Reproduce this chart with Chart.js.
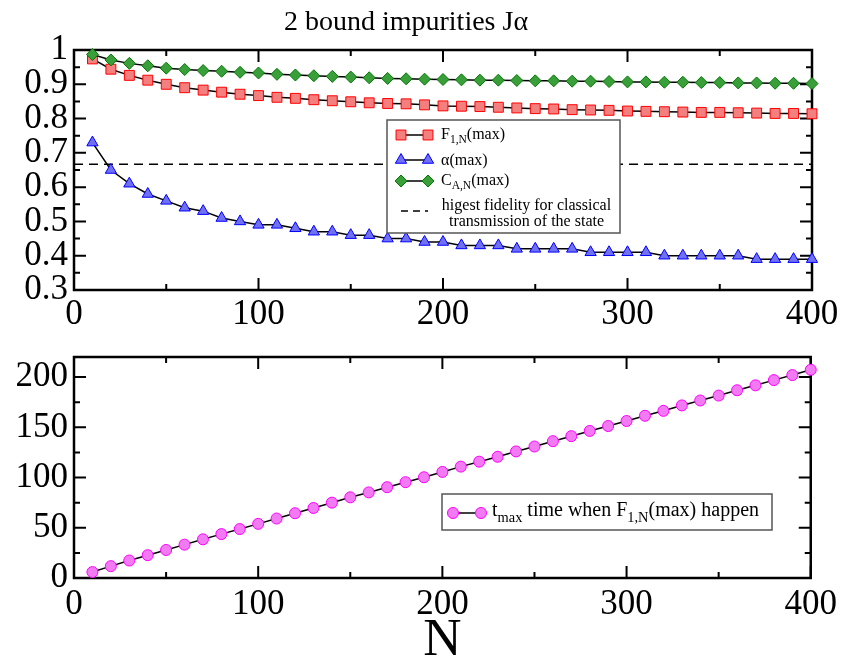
<!DOCTYPE html>
<html>
<head>
<meta charset="utf-8">
<script src="https://cdn.jsdelivr.net/npm/chart.js@4"></script>
<style>
  body { margin: 0; background: #fff; }
  #wrap { position: relative; width: 843px; height: 658px; }
  canvas { position: absolute; left: 0; }
  #chartTop { top: 0; }
  #chartBottom { top: 330px; }
</style>
</head>
<body>
<div id="wrap">
  <canvas id="chartTop" width="843" height="330"></canvas>
  <canvas id="chartBottom" width="843" height="328"></canvas>
</div>
<script>
// ---- data ----
const sizeN = [10, 20, 30, 40, 50, 60, 70, 80, 90, 100,
  110, 120, 130, 140, 150, 160, 170, 180, 190, 200,
  210, 220, 230, 240, 250, 260, 270, 280, 290, 300,
  310, 320, 330, 340, 350, 360, 370, 380, 390, 400];

const fidelityMax = [0.974, 0.944, 0.926, 0.912, 0.900, 0.890, 0.883, 0.877, 0.871, 0.867,
  0.862, 0.859, 0.855, 0.852, 0.849, 0.846, 0.844, 0.843, 0.840, 0.837,
  0.836, 0.835, 0.833, 0.831, 0.829, 0.828, 0.826, 0.825, 0.824, 0.822,
  0.821, 0.820, 0.819, 0.818, 0.818, 0.817, 0.816, 0.815, 0.815, 0.814];

const alphaMax = [0.73, 0.65, 0.61, 0.58, 0.56, 0.54, 0.53, 0.51, 0.50, 0.49,
  0.49, 0.48, 0.47, 0.47, 0.46, 0.46, 0.45, 0.45, 0.44, 0.44,
  0.43, 0.43, 0.43, 0.42, 0.42, 0.42, 0.42, 0.41, 0.41, 0.41,
  0.41, 0.40, 0.40, 0.40, 0.40, 0.40, 0.39, 0.39, 0.39, 0.39];

const concurrenceMax = [0.987, 0.971, 0.961, 0.954, 0.947, 0.943, 0.940, 0.938, 0.935, 0.933,
  0.929, 0.927, 0.925, 0.923, 0.921, 0.919, 0.917, 0.916, 0.915, 0.914,
  0.913, 0.912, 0.912, 0.911, 0.910, 0.910, 0.909, 0.909, 0.908, 0.907,
  0.907, 0.906, 0.906, 0.905, 0.905, 0.904, 0.904, 0.903, 0.903, 0.902];

const tMax = [5.9, 11.8, 17.4, 22.7, 27.9, 33.2, 38.5, 43.7, 48.7, 53.9,
  59.2, 64.5, 69.7, 75.0, 80.3, 85.2, 90.4, 95.4, 100.3, 105.6,
  110.9, 115.8, 120.7, 126.0, 130.9, 136.2, 141.2, 146.4, 151.3, 156.3,
  161.5, 166.4, 171.8, 176.7, 181.6, 186.9, 191.8, 197.0, 202.0, 207.3];

const classicalLimit = 2 / 3;
const xRange = [0, 400];

const pairs = (xs, ys) => xs.map((x, i) => ({ x, y: ys[i] }));
const isMajor = (v, step) => Math.abs(v / step - Math.round(v / step)) < 1e-6;

Chart.defaults.font.family = "'Liberation Serif', 'DejaVu Serif', serif";
Chart.defaults.color = '#000';

// series looks (xmgrace style)
const styles = {
  F: { pointStyle: 'rect', pointRadius: 7, pointBackgroundColor: '#f37f7f', pointBorderColor: '#ff0000' },
  alpha: { pointStyle: 'triangle', pointRadius: 6.5, pointBackgroundColor: '#7070f0', pointBorderColor: '#0000ff' },
  C: { pointStyle: 'rectRot', pointRadius: 6, pointBackgroundColor: '#3a9e3a', pointBorderColor: '#007a00' },
  t: { pointStyle: 'circle', pointRadius: 5.5, pointBackgroundColor: '#f27af2', pointBorderColor: '#ff00ff' },
};

function marker(ctx, s, x, y) {
  const r = s.pointRadius;
  ctx.beginPath();
  if (s.pointStyle === 'rect') {
    const h = r * Math.SQRT1_2;
    ctx.rect(x - h, y - h, 2 * h, 2 * h);
  } else if (s.pointStyle === 'triangle') {
    ctx.moveTo(x, y - r);
    ctx.lineTo(x + r * 0.866, y + r / 2);
    ctx.lineTo(x - r * 0.866, y + r / 2);
    ctx.closePath();
  } else if (s.pointStyle === 'rectRot') {
    ctx.moveTo(x - r, y); ctx.lineTo(x, y - r); ctx.lineTo(x + r, y); ctx.lineTo(x, y + r);
    ctx.closePath();
  } else {
    ctx.arc(x, y, r, 0, Math.PI * 2);
  }
  ctx.fillStyle = s.pointBackgroundColor;
  ctx.strokeStyle = s.pointBorderColor;
  ctx.lineWidth = 1;
  ctx.fill();
  ctx.stroke();
}

// text with subscripts: parts = [[text, isSub], ...]
function richText(ctx, parts, x, y, size) {
  let cx = x;
  parts.forEach(([txt, sub]) => {
    const fs = sub ? size * 0.72 : size;
    ctx.font = fs + "px 'Liberation Serif', serif";
    ctx.fillText(txt, cx, sub ? y + size * 0.28 : y);
    cx += ctx.measureText(txt).width;
  });
  return cx - x;
}

// frame + inward ticks on all four sides
const framePlugin = {
  id: 'frame',
  beforeDatasetsDraw(chart, args, opts) {
    const { ctx, chartArea: a, scales } = chart;
    ctx.save();
    ctx.strokeStyle = '#000';
    ctx.lineWidth = 2;
    ctx.beginPath();
    scales.x.ticks.forEach((t) => {
      const px = scales.x.getPixelForValue(t.value);
      const len = isMajor(t.value, opts.xMajor) ? 12 : 6;
      ctx.moveTo(px, a.bottom); ctx.lineTo(px, a.bottom - len);
      ctx.moveTo(px, a.top); ctx.lineTo(px, a.top + len);
    });
    scales.y.ticks.forEach((t) => {
      const py = scales.y.getPixelForValue(t.value);
      const len = isMajor(t.value, opts.yMajor) ? 12 : 6;
      ctx.moveTo(a.left, py); ctx.lineTo(a.left + len, py);
      ctx.moveTo(a.right, py); ctx.lineTo(a.right - len, py);
    });
    ctx.stroke();
    ctx.lineWidth = 2.5;
    ctx.strokeRect(a.left, a.top, a.width, a.height);
    ctx.restore();
  },
};

// boxed legend inside the plot
const boxLegend = {
  id: 'boxLegend',
  afterDraw(chart, args, opts) {
    const { ctx, chartArea: a } = chart;
    const bx = a.left + opts.left;
    const by = a.top + opts.top;
    ctx.save();
    ctx.fillStyle = '#fff';
    ctx.fillRect(bx, by, opts.width, opts.height);
    ctx.strokeStyle = '#555';
    ctx.lineWidth = 1.5;
    ctx.strokeRect(bx, by, opts.width, opts.height);
    opts.items.forEach((it) => {
      const y = by + it.y;
      const x0 = bx + opts.lineFrom;
      const x1 = bx + opts.lineTo;
      ctx.beginPath();
      ctx.strokeStyle = '#000';
      ctx.lineWidth = 1.5;
      ctx.setLineDash(it.dash || []);
      ctx.moveTo(x0, y); ctx.lineTo(x1, y);
      ctx.stroke();
      ctx.setLineDash([]);
      if (it.style) { marker(ctx, it.style, x0, y); marker(ctx, it.style, x1, y); }
      ctx.fillStyle = '#000';
      ctx.textBaseline = 'alphabetic';
      if (it.lines) {
        const cx = bx + opts.textX + it.lineWidth / 2;
        ctx.font = opts.fontSize + "px 'Liberation Serif', serif";
        ctx.textAlign = 'center';
        it.lines.forEach((ln, k) => ctx.fillText(ln, cx, y + it.baseline + k * opts.fontSize));
        ctx.textAlign = 'left';
      } else {
        richText(ctx, it.text, bx + opts.textX, y + it.baseline, opts.fontSize);
      }
    });
    ctx.restore();
  },
};

const lineBase = { borderColor: '#000', borderWidth: 1.5, pointBorderWidth: 1, tension: 0, clip: false, fill: false };

new Chart(document.getElementById('chartTop'), {
  type: 'line',
  data: {
    datasets: [
      { label: 'C_A,N(max)', data: pairs(sizeN, concurrenceMax), ...lineBase, ...styles.C },
      { label: 'F_1,N(max)', data: pairs(sizeN, fidelityMax), ...lineBase, ...styles.F },
      { label: 'alpha(max)', data: pairs(sizeN, alphaMax), ...lineBase, ...styles.alpha },
      {
        label: 'classical',
        data: pairs(xRange, [classicalLimit, classicalLimit]),
        ...lineBase, borderDash: [9, 6], pointRadius: 0,
      },
    ],
  },
  options: {
    responsive: false,
    animation: false,
    layout: { padding: { right: 31 } },
    plugins: {
      legend: { display: false },
      tooltip: { enabled: false },
      title: {
        display: true,
        text: '2 bound impurities Jα',
        font: { size: 28, weight: 'normal' },
        color: '#000',
        padding: { top: 6, bottom: 10.4 },
      },
      frame: { xMajor: 100, yMajor: 0.1 },
      boxLegend: {
        left: 313, top: 70, width: 233, height: 113,
        lineFrom: 14, lineTo: 41, textX: 54, fontSize: 16,
        items: [
          { style: styles.F, y: 15, baseline: 4, text: [['F'], ['1,N', true], ['(max)']] },
          { style: styles.alpha, y: 40, baseline: 5, text: [['α(max)']] },
          { style: styles.C, y: 61, baseline: 4, text: [['C'], ['A,N', true], ['(max)']] },
          { dash: [7, 5], y: 91, baseline: -1, lines: ['higest fidelity for classical', 'transmission of the state'], lineWidth: 171 },
        ],
      },
    },
    scales: {
      x: {
        type: 'linear', min: xRange[0], max: xRange[1],
        grid: { display: false, drawTicks: false }, border: { display: false },
        ticks: {
          stepSize: 50, autoSkip: false, maxRotation: 0, includeBounds: false,
          font: { size: 35 }, padding: 4,
          callback: (v) => (isMajor(v, 100) ? String(v) : ''),
        },
        afterFit: (s) => { s.height = 40; },
      },
      y: {
        min: 0.3, max: 1,
        grid: { display: false, drawTicks: false }, border: { display: false },
        ticks: {
          stepSize: 0.05, autoSkip: false, includeBounds: false,
          font: { size: 35 }, padding: 6,
          callback: (v) => (isMajor(v, 0.1) ? (v === 1 ? '1' : v.toFixed(1)) : ''),
        },
        afterFit: (s) => { s.width = 74; },
      },
    },
  },
  plugins: [framePlugin, boxLegend],
});

new Chart(document.getElementById('chartBottom'), {
  type: 'line',
  data: {
    datasets: [
      { label: 't_max', data: pairs(sizeN, tMax), ...lineBase, ...styles.t },
    ],
  },
  options: {
    responsive: false,
    animation: false,
    layout: { padding: { top: 25, right: 31 } },
    plugins: {
      legend: { display: false },
      tooltip: { enabled: false },
      frame: { xMajor: 100, yMajor: 50 },
      boxLegend: {
        left: 368, top: 137, width: 330, height: 36,
        lineFrom: 11, lineTo: 39, textX: 50, fontSize: 20,
        items: [
          {
            style: styles.t, y: 19, baseline: 3,
            text: [['t'], ['max', true], [' time when F'], ['1,N', true], ['(max) happen']],
          },
        ],
      },
    },
    scales: {
      x: {
        type: 'linear', min: xRange[0], max: xRange[1],
        grid: { display: false, drawTicks: false }, border: { display: false },
        ticks: {
          stepSize: 50, autoSkip: false, maxRotation: 0, includeBounds: false,
          font: { size: 35 }, padding: 6,
          callback: (v) => (isMajor(v, 100) ? String(v) : ''),
        },
        title: { display: true, text: 'N', font: { size: 53, lineHeight: 0.65 }, padding: 0, color: '#000' },
        afterFit: (s) => { s.height = 80; },
      },
      y: {
        min: 0, max: 220,
        grid: { display: false, drawTicks: false }, border: { display: false },
        ticks: {
          stepSize: 25, autoSkip: false, includeBounds: false,
          font: { size: 35 }, padding: 6,
          callback: (v) => (isMajor(v, 50) ? String(v) : ''),
        },
        afterFit: (s) => { s.width = 74; },
      },
    },
  },
  plugins: [framePlugin, boxLegend],
});
</script>
</body>
</html>
